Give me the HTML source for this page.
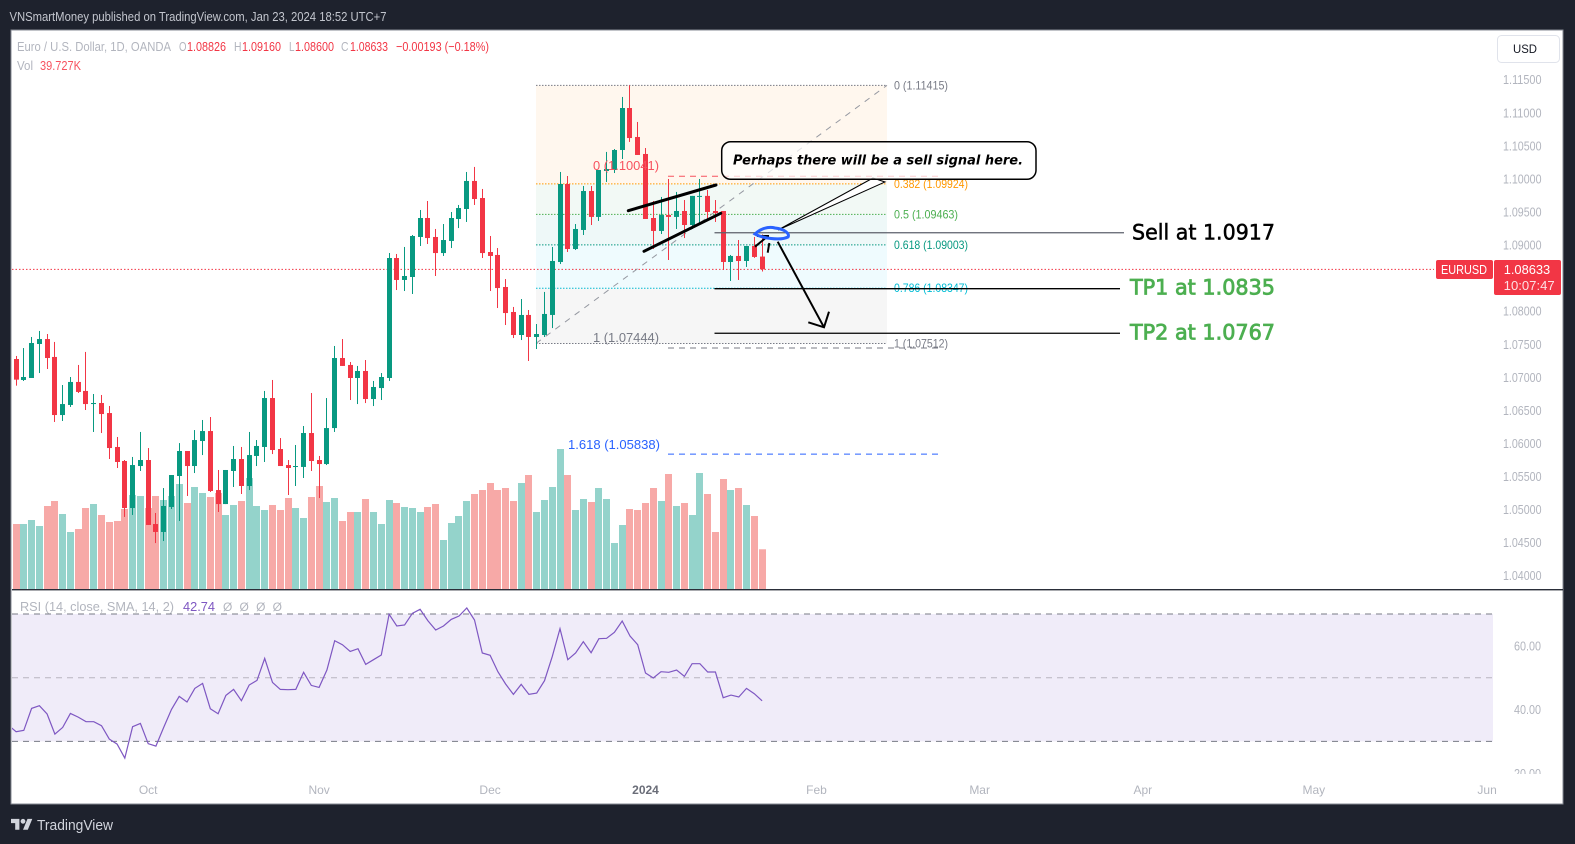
<!DOCTYPE html>
<html lang="en">
<head>
<meta charset="utf-8">
<title>EURUSD 1D chart</title>
<style>
html,body{margin:0;padding:0;background:#1e222d;width:1575px;height:844px;overflow:hidden}
svg{display:block}
text{font-family:"Liberation Sans",sans-serif;font-size:12px}
</style>
</head>
<body>
<svg id="chart" xmlns="http://www.w3.org/2000/svg" width="1575" height="844" viewBox="0 0 1575 844">
  <defs>
    <clipPath id="rsi-clip"><rect x="12" y="591" width="1481" height="182"/></clipPath>
    <clipPath id="rsi-axis-clip"><rect x="1494" y="591" width="69" height="183"/></clipPath>
  </defs>
  <rect x="0" y="0" width="1575" height="844" fill="#1e222d"/>
  <text x="9.5" y="21" font-size="13" textLength="377" lengthAdjust="spacingAndGlyphs" fill="#c3c6ce" style="font-size:13px">VNSmartMoney published on TradingView.com, Jan 23, 2024 18:52 UTC+7</text>
  <rect x="11" y="30" width="1552" height="774" fill="#ffffff" stroke="#868993" stroke-width="1"/>

  <g id="fib-fills"></g>
  <rect id="rsi-band" x="12" width="1481" fill="#f0ecf9"/>
  <g id="volume"></g>
  <g id="price-line"></g>
  <g id="fib-lines"></g>
  <line x1="536" y1="343.4" x2="887" y2="85.3" stroke="#9598a1" stroke-width="1" stroke-dasharray="6 6"/>
  <g id="candles"></g>

  <g stroke="#000" stroke-width="3" stroke-linecap="round">
    <line x1="628.3" y1="210.7" x2="716" y2="185"/>
    <line x1="644" y1="251.3" x2="720.7" y2="213.3"/>
  </g>
  <g id="trade-lines"></g>

  <g stroke="#000" stroke-width="2" fill="none">
    <line x1="755" y1="246.7" x2="768" y2="236"/>
    <line x1="757" y1="236" x2="769" y2="236"/>
    <line x1="767.7" y1="252.7" x2="769.3" y2="243"/>
    <path d="M777.7 241.7 L824 327.3 M808.3 322.3 L824 327.3 L829 311.7"/>
  </g>

  <polygon points="873,178 778,230 885,182" fill="#ffffff" stroke="#000" stroke-width="1"/>
  <rect x="721.7" y="141.7" width="314.3" height="37.6" rx="9" fill="#ffffff" fill-opacity="0.72" stroke="#000" stroke-width="1.5"/>
  <text x="733" y="164.5" textLength="290" lengthAdjust="spacingAndGlyphs" fill="#000" style="font-family:'DejaVu Sans',sans-serif;font-size:13px;font-weight:bold;font-style:italic">Perhaps there will be a sell signal here.</text>
  <path d="M755 234 C760 229 768 226 775 228 C785 229 790 234 788 237 C780 241 762 238 755 234 Z" fill="none" stroke="#2962ff" stroke-width="3"/>

  <text x="1132" y="239.5" textLength="143" lengthAdjust="spacingAndGlyphs" fill="#000" stroke="#000" stroke-width="0.5" style="font-family:'DejaVu Sans',sans-serif;font-size:21px">Sell at 1.0917</text>
  <text x="1130" y="294.5" textLength="145" lengthAdjust="spacingAndGlyphs" fill="#4caf50" stroke="#4caf50" stroke-width="0.8" style="font-family:'DejaVu Sans',sans-serif;font-size:21px">TP1 at 1.0835</text>
  <text x="1130" y="339.5" textLength="145" lengthAdjust="spacingAndGlyphs" fill="#4caf50" stroke="#4caf50" stroke-width="0.8" style="font-family:'DejaVu Sans',sans-serif;font-size:21px">TP2 at 1.0767</text>

  <g>
    <text x="17" y="51" textLength="154" lengthAdjust="spacingAndGlyphs" fill="#b2b5be" style="font-size:13px">Euro / U.S. Dollar, 1D, OANDA</text>
    <text x="179" y="51" textLength="7.5" lengthAdjust="spacingAndGlyphs" fill="#b2b5be" style="font-size:13px">O</text>
    <text x="187" y="51" textLength="39" lengthAdjust="spacingAndGlyphs" fill="#f23645" style="font-size:13px">1.08826</text>
    <text x="234" y="51" textLength="7.5" lengthAdjust="spacingAndGlyphs" fill="#b2b5be" style="font-size:13px">H</text>
    <text x="242" y="51" textLength="39" lengthAdjust="spacingAndGlyphs" fill="#f23645" style="font-size:13px">1.09160</text>
    <text x="289" y="51" textLength="5.5" lengthAdjust="spacingAndGlyphs" fill="#b2b5be" style="font-size:13px">L</text>
    <text x="295" y="51" textLength="39" lengthAdjust="spacingAndGlyphs" fill="#f23645" style="font-size:13px">1.08600</text>
    <text x="341" y="51" textLength="7.5" lengthAdjust="spacingAndGlyphs" fill="#b2b5be" style="font-size:13px">C</text>
    <text x="350" y="51" textLength="38" lengthAdjust="spacingAndGlyphs" fill="#f23645" style="font-size:13px">1.08633</text>
    <text x="396" y="51" textLength="93" lengthAdjust="spacingAndGlyphs" fill="#f23645" style="font-size:13px">−0.00193 (−0.18%)</text>
    <text x="17" y="70" textLength="16" lengthAdjust="spacingAndGlyphs" fill="#b2b5be" style="font-size:13px">Vol</text>
    <text x="40" y="70" textLength="41" lengthAdjust="spacingAndGlyphs" fill="#f7525f" style="font-size:13px">39.727K</text>
  </g>

  <g id="price-axis"></g>
  <rect x="1497.5" y="35.5" width="62" height="27" rx="4" fill="#fff" stroke="#e0e3eb"/>
  <text x="1513" y="53" textLength="24" lengthAdjust="spacingAndGlyphs" fill="#131722" style="font-size:12px">USD</text>

  <g>
    <rect x="1436" y="260" width="57" height="19" rx="2" fill="#f23645"/>
    <text x="1441" y="274" textLength="46" lengthAdjust="spacingAndGlyphs" fill="#fff" style="font-size:13px">EURUSD</text>
    <rect x="1494" y="260" width="67" height="35" rx="2" fill="#f23645"/>
    <text x="1503.7" y="274" textLength="46.5" lengthAdjust="spacingAndGlyphs" fill="#fff" style="font-size:13px">1.08633</text>
    <text x="1503.7" y="290" textLength="51" lengthAdjust="spacingAndGlyphs" fill="#fde0e3" style="font-size:13px">10:07:47</text>
  </g>

  <rect x="12" y="589" width="1551" height="1.4" fill="#2a2e39"/>

  <g id="rsi-guides"></g>
  <g id="rsi-line" clip-path="url(#rsi-clip)"></g>
  <g id="rsi-axis" clip-path="url(#rsi-axis-clip)"></g>
  <g>
    <text x="20" y="611" textLength="154" lengthAdjust="spacingAndGlyphs" fill="#b2b5be" style="font-size:13px">RSI (14, close, SMA, 14, 2)</text>
    <text x="183" y="611" textLength="32" lengthAdjust="spacingAndGlyphs" fill="#7e57c2" style="font-size:13px">42.74</text>
    <text x="223" y="611" textLength="59" lengthAdjust="spacing" fill="#b2b5be" style="font-size:12px">Ø Ø Ø Ø</text>
  </g>

  <g id="time-axis"></g>

  <g>
    <g transform="translate(11 816.5) scale(0.6)" fill="#d1d4dc">
      <path d="M14 22H7V11H0V4h14v18ZM28 22h-8l7.5-18h8L28 22Z"/>
      <circle cx="20" cy="8" r="4"/>
    </g>
    <text x="37" y="830" textLength="76" lengthAdjust="spacingAndGlyphs" fill="#d1d4dc" style="font-size:15px">TradingView</text>
  </g>
</svg>

<script>
const opens = [1.07277,1.06960,1.06990,1.07504,1.07579,1.07308,1.06430,1.06582,1.06930,1.06794,
1.06596,1.06612,1.06460,1.05947,1.05735,1.05024,1.05659,1.05750,1.04782,1.04662,
1.05040,1.05508,1.05886,1.05659,1.06037,1.06188,1.05296,1.05084,1.05584,1.05765,
1.05357,1.05811,1.05947,1.06687,1.05916,1.05674,1.05645,1.05645,1.06158,1.05750,
1.05689,1.06233,1.07292,1.07187,1.06990,1.07096,1.06672,1.06838,1.06990,1.08804,
1.08472,1.08517,1.09122,1.09409,1.09122,1.08879,1.09062,1.09394,1.09545,1.09969,
1.09711,1.08895,1.08850,1.08366,1.07988,1.07640,1.07943,1.07610,1.07640,1.07943,
1.08744,1.09923,1.08940,1.09228,1.09817,1.09425,1.10120,1.10135,1.10437,1.11072,
1.10634,1.10377,1.09409,1.09213,1.09454,1.09425,1.09515,1.09303,1.09728,1.09743,
1.09515,1.09515,1.08744,1.08835,1.08759,1.08986,1.08826];
const highs = [1.07323,1.07443,1.07610,1.07701,1.07655,1.07535,1.06884,1.07005,1.07187,1.07384,
1.06748,1.06733,1.06567,1.06098,1.05750,1.05796,1.06174,1.05931,1.04949,1.05326,
1.05523,1.06006,1.05886,1.06203,1.06355,1.06400,1.05599,1.05599,1.05962,1.05947,
1.06174,1.06052,1.06794,1.06960,1.06082,1.05750,1.05977,1.06264,1.06763,1.05811,
1.06687,1.07474,1.07579,1.07232,1.07172,1.07262,1.06945,1.07065,1.08880,1.08865,
1.08971,1.09152,1.09530,1.09666,1.09243,1.09318,1.09500,1.09606,1.10105,1.10181,
1.09848,1.09137,1.08955,1.08486,1.08064,1.08184,1.08018,1.07806,1.08291,1.08971,
1.10105,1.10044,1.09318,1.09893,1.09893,1.10135,1.10408,1.10452,1.11239,1.11415,
1.10861,1.10467,1.09666,1.09727,1.09999,1.09803,1.09681,1.09743,1.09999,1.09833,
1.09681,1.09515,1.08850,1.09076,1.08986,1.09122,1.09160];
const lows = [1.06874,1.06945,1.06990,1.07065,1.07126,1.06325,1.06340,1.06552,1.06763,1.06506,
1.06174,1.06158,1.05765,1.05629,1.04889,1.04919,1.05584,1.04768,1.04494,1.04525,
1.05009,1.04828,1.05206,1.05553,1.05825,1.05266,1.04964,1.05084,1.05342,1.05236,
1.05296,1.05659,1.05720,1.05840,1.05659,1.05221,1.05357,1.05478,1.05584,1.05175,
1.05674,1.06174,1.07172,1.06657,1.06596,1.06611,1.06566,1.06657,1.06945,1.08320,
1.08305,1.08260,1.08986,1.09016,1.08532,1.08835,1.08955,1.09257,1.09349,1.09606,
1.08804,1.08305,1.08048,1.07791,1.07594,1.07564,1.07247,1.07428,1.07610,1.07745,
1.08713,1.08895,1.08925,1.09152,1.09303,1.09364,1.09954,1.10089,1.10301,1.10559,
1.10362,1.09394,1.08940,1.09167,1.08774,1.09243,1.09106,1.09243,1.09303,1.09379,
1.09349,1.08623,1.08457,1.08472,1.08669,1.08806,1.08600];
const closes = [1.06965,1.07005,1.07519,1.07579,1.07292,1.06430,1.06596,1.06930,1.06779,1.06596,
1.06612,1.06445,1.05931,1.05720,1.05024,1.05674,1.05750,1.04768,1.04662,1.05055,
1.05523,1.05886,1.05659,1.06052,1.06188,1.05281,1.05084,1.05599,1.05765,1.05357,
1.05825,1.05962,1.06687,1.05901,1.05659,1.05629,1.05659,1.06158,1.05735,1.05689,
1.06233,1.07292,1.07172,1.06990,1.07096,1.06672,1.06854,1.07005,1.08804,1.08472,
1.08532,1.09137,1.09409,1.09106,1.08879,1.09076,1.09409,1.09560,1.09969,1.09696,
1.08879,1.08835,1.08350,1.07972,1.07640,1.07943,1.07610,1.07655,1.07958,1.08759,
1.09923,1.08940,1.09243,1.09817,1.09425,1.10135,1.10150,1.10437,1.11072,1.10618,
1.10362,1.09394,1.09213,1.09454,1.09425,1.09515,1.09303,1.09743,1.09743,1.09500,
1.09484,1.08744,1.08835,1.08759,1.08986,1.08820,1.08633];
const volumes = [65,65,69,63,83,88,75,57,60,81,85,74,67,68,80,94,93,81,93,89,
93,105,86,102,96,92,96,74,84,88,111,83,79,84,79,91,81,71,92,103,
87,91,68,77,77,90,77,65,89,86,82,81,77,82,85,49,66,73,88,95,
99,106,99,101,88,106,114,77,89,102,140,114,79,90,87,101,90,46,64,80,
79,86,101,88,115,83,86,74,116,95,57,110,99,101,84,73,39.727];
const rsiLeadIn = 35.13;
const rsiValues = [33.04,33.46,40.37,41.2,38.59,32.3,34.4,38.8,37.64,36.18,
36.18,34.92,30.73,29.16,24.76,34.61,35.65,29.27,28.53,34.4,
40.05,44.14,42.36,46.65,48.22,40.26,38.69,44.45,46.34,42.77,
47.7,49.16,56.07,48.53,46.34,46.23,46.34,51.68,47.59,46.96,
52.41,61.62,60.37,58.27,59.11,54.19,55.65,57.12,69.9,66.23,
66.54,70.21,71.47,67.91,64.97,66.23,68.32,69.37,71.88,68.12,
57.75,57.02,51.88,48.01,44.76,47.91,44.76,45.18,49.06,56.6,
65.39,55.65,57.75,61.31,57.85,62.25,62.36,64.24,67.8,63.09,
60.37,51.47,49.9,51.88,51.68,52.41,50.42,54.4,54.4,51.78,
51.78,43.72,44.55,43.93,46.65,44.97,42.74];
const priceTicks = [1.115,1.11,1.105,1.1,1.095,1.09,1.08,1.075,1.07,1.065,1.06,1.055,1.05,1.045,1.04];
const rsiTicks = [60,40,20];
const rsiBands = [70,50,30];
const timeLabels = ['Oct','Nov','Dec','2024','Feb','Mar','Apr','May','Jun'];
const timeBars = [17,39,61,81,103,124,145,167,189.3];
const lastPrice = 1.08633;
const fibRatios = ['0','0.382','0.5','0.618','0.786','1'];
const fibPrices = [1.11415,1.09924,1.09463,1.09003,1.08347,1.07512];
const fibColors = ['#787b86','#ff9800','#4caf50','#089981','#00bcd4','#787b86'];
const fibFills = ['#fff7ee','#f2f9f5','#eef8f8','#effbfe','#f6f6f6'];
const projRatios = ['0','1','1.618'];
const projPrices = [1.10041,1.07444,1.05838];
const projColors = ['#f7525f','#787b86','#2962ff'];
const tradeLevels = [1.09186,1.0834,1.07666];
const tradeColors = ['#5d606b','#000000','#000000'];

const NS = 'http://www.w3.org/2000/svg';
const GREEN = '#089981', RED = '#f23645';
const VOL_GREEN = '#94d3cb', VOL_RED = '#f7a9a7';
const barX = i => 16.05 + 7.771 * i;
const priceY = p => (1.12705 - p) * 6614;
const volY = v => 589 - v;
const rsiY = r => 614 + (70 - r) * 3.185;

function make(tag, attrs, parent, text) {
  const el = document.createElementNS(NS, tag);
  for (const k in attrs) el.setAttribute(k, attrs[k]);
  if (text !== undefined) el.textContent = text;
  parent.appendChild(el);
  return el;
}
const $ = id => document.getElementById(id);

/* fibonacci fills and levels */
fibFills.forEach((color, i) => {
  const el = make('rect', {x: 536, y: priceY(fibPrices[i]), width: 351, height: priceY(fibPrices[i + 1]) - priceY(fibPrices[i]), fill: color}, $('fib-fills'));
  
  
});
fibPrices.forEach((p, i) => {
  const line = make('line', {x1: 536, x2: 887, y1: priceY(p), y2: priceY(p), stroke: fibColors[i], 'stroke-width': 1, 'stroke-dasharray': '1.5 1.5'}, $('fib-lines'));
  
  
  const label = make('text', {x: 894, y: priceY(p) + 4, fill: fibColors[i], textLength: fibRatios[i].length * 5 + 49, lengthAdjust: 'spacingAndGlyphs', style: 'font-size:12px'}, $('fib-lines'), fibRatios[i] + ' (' + p.toFixed(5) + ')');
  
  
});
projPrices.forEach((p, i) => {
  const line = make('line', {x1: 668, x2: 938, y1: priceY(p), y2: priceY(p), stroke: projColors[i], 'stroke-width': 1, 'stroke-dasharray': '6 5'}, $('fib-lines'));
  
  
});

/* volume */
volumes.forEach((v, i) => {
  const el = make('rect', {x: Math.floor(barX(i)) - 3, y: volY(v), width: 7, height: 589 - volY(v), fill: closes[i] >= opens[i] ? VOL_GREEN : VOL_RED}, $('volume'));
  
  
});

/* last price line */
const lastLine = make('line', {x1: 12, x2: 1434, y1: priceY(lastPrice), y2: priceY(lastPrice), stroke: RED, 'stroke-width': 1, 'stroke-dasharray': '1.5 2'}, $('price-line'));



/* candles */
opens.forEach((o, i) => {
  const c = closes[i], color = c >= o ? GREEN : RED, cx = Math.floor(barX(i));
  const wick = make('rect', {x: cx, y: priceY(highs[i]), width: 1, height: priceY(lows[i]) - priceY(highs[i]), fill: color}, $('candles'));
  
  
  const top = priceY(Math.max(o, c)), bottom = priceY(Math.min(o, c));
  const body = make('rect', {x: cx - 2, y: top, width: 5, height: Math.max(1, bottom - top), fill: color}, $('candles'));
  
  
});

/* labels of the projection levels sit above the candles */
projPrices.forEach((p, i) => {
  const label = make('text', {x: i === 2 ? 568 : 593, y: priceY(p) - (i === 2 ? 5 : 6), fill: projColors[i], textLength: i === 2 ? 92 : 66, lengthAdjust: 'spacingAndGlyphs', style: 'font-size:12.5px'}, $('candles'), projRatios[i] + ' (' + p.toFixed(5) + ')');
  
  
});

/* trade levels */
tradeLevels.forEach((p, i) => {
  const el = make('line', {x1: 714.5, x2: i === 0 ? 1124 : 1120, y1: priceY(p), y2: priceY(p), stroke: tradeColors[i], 'stroke-width': 1.3}, $('trade-lines'));
  
  
});

/* price axis */
priceTicks.forEach(p => {
  const el = make('text', {x: 1503, y: priceY(p) + 4.5, fill: '#b2b5be', textLength: 38.5, lengthAdjust: 'spacingAndGlyphs', style: 'font-size:12.5px'}, $('price-axis'), p.toFixed(5));
  
  
});

/* rsi */
const band = $('rsi-band');
band.setAttribute('y', rsiY(rsiBands[0]));
band.setAttribute('height', rsiY(rsiBands[2]) - rsiY(rsiBands[0]));
rsiBands.forEach((r, i) => {
  const el = make('line', {x1: 12, x2: 1493, y1: rsiY(r), y2: rsiY(r), stroke: i === 1 ? '#b7b4bf' : '#787b86', 'stroke-width': 1, 'stroke-dasharray': '6 5'}, $('rsi-guides'));
  
  
});
const rsiPoints = [[barX(-1), rsiY(rsiLeadIn)]].concat(rsiValues.map((r, i) => [barX(i), rsiY(r)]));
const rsiPath = make('polyline', {points: rsiPoints.map(pt => pt[0].toFixed(1) + ',' + pt[1].toFixed(1)).join(' '), fill: 'none', stroke: '#7e57c2', 'stroke-width': 1.2}, $('rsi-line'));


rsiTicks.forEach(r => {
  const el = make('text', {x: 1514, y: rsiY(r) + 4.5, fill: '#b2b5be', textLength: 27, lengthAdjust: 'spacingAndGlyphs', style: 'font-size:12.5px'}, $('rsi-axis'), r.toFixed(2));
  
  
});

/* time axis */
timeLabels.forEach((t, i) => {
  const bold = t === '2024';
  const el = make('text', {x: barX(timeBars[i]), y: 794, 'text-anchor': 'middle', fill: bold ? '#6a6d78' : '#b2b5be', style: 'font-size:12px;font-weight:' + (bold ? 'bold' : 'normal')}, $('time-axis'), t);
  
  
});
</script>
</body>
</html>
